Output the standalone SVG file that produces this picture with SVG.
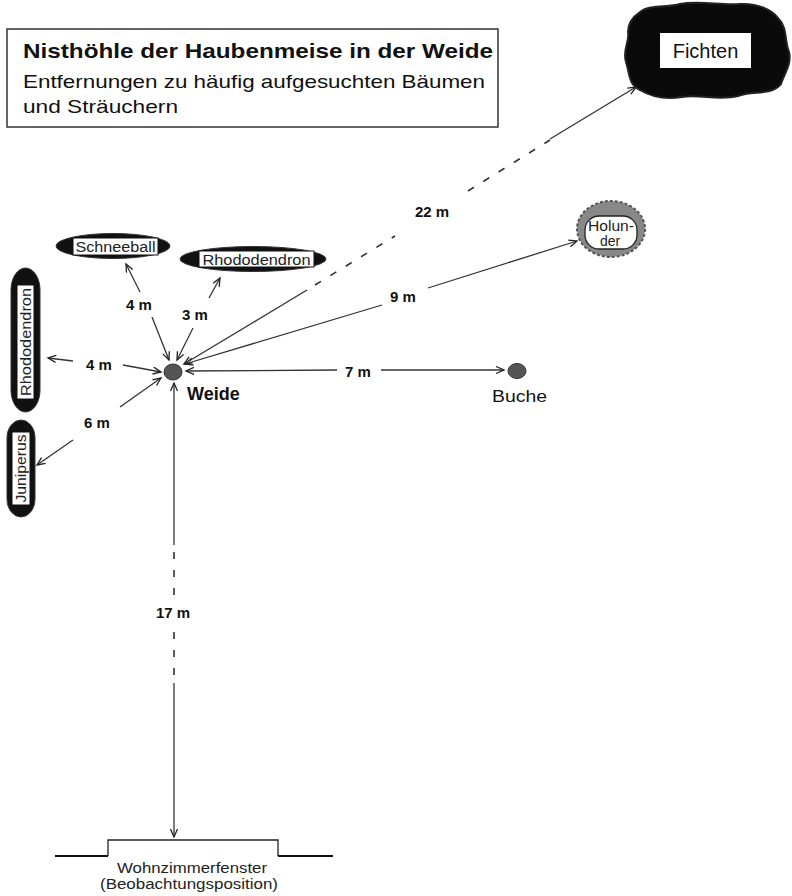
<svg xmlns="http://www.w3.org/2000/svg" width="792" height="896" viewBox="0 0 792 896">
<defs>
<marker id="ah" markerUnits="userSpaceOnUse" markerWidth="12" markerHeight="10" refX="9" refY="4" orient="auto">
<path d="M1,0.5 L9,4 L1,7.5" fill="none" stroke="#222" stroke-width="1.3"/>
</marker>
</defs>
<style>
.t{font-family:"Liberation Sans",Arial,sans-serif;fill:#111}
.lb{font-family:"Liberation Sans",Arial,sans-serif;font-weight:bold;font-size:15px;fill:#111;text-anchor:middle}
.nl{font-family:"Liberation Sans",Arial,sans-serif;font-size:14px;fill:#222;text-anchor:middle}
.a{fill:none;stroke:#333;stroke-width:1.3;marker-end:url(#ah)}
.d{fill:none;stroke:#333;stroke-width:1.6;stroke-dasharray:7 11}
.bush{fill:#111;stroke:#333;stroke-width:1}
.wb{fill:#fff;stroke:#111;stroke-width:1}
</style>
<rect width="792" height="896" fill="#fff"/>

<g id="title">
<rect x="7" y="29" width="491" height="98" fill="#fff" stroke="#333" stroke-width="1.5"/>
<text class="t" x="23" y="58" font-size="20.5" font-weight="bold" textLength="470" lengthAdjust="spacingAndGlyphs">Nisthöhle der Haubenmeise in der Weide</text>
<text class="t" x="23" y="88" font-size="18.5" textLength="462" lengthAdjust="spacingAndGlyphs">Entfernungen zu häufig aufgesuchten Bäumen</text>
<text class="t" x="23" y="113" font-size="18.5" textLength="155" lengthAdjust="spacingAndGlyphs">und Sträuchern</text>
</g>

<g id="fichten">
<path d="M640,12 C650,4 668,8 680,4 C700,0 722,6 740,4 C758,3 772,10 778,18 C788,28 784,40 789,52 C792,64 784,74 781,84 C772,96 752,90 738,96 C718,101 700,94 682,97 C664,100 650,96 640,90 C628,84 630,74 626,62 C622,50 630,42 628,32 C628,22 634,16 640,12 Z" fill="#0a0a0a" stroke="#222" stroke-width="2"/>
<rect x="660" y="33" width="91" height="35" fill="#fff"/>
<text class="t" x="705.5" y="58" font-size="20" text-anchor="middle" fill="#222">Fichten</text>
</g>

<g id="schneeball">
<ellipse class="bush" cx="113" cy="246" rx="57" ry="12.5"/>
<rect class="wb" x="73" y="238" width="85" height="17"/>
<text class="nl" x="115.5" y="251.5" textLength="80" lengthAdjust="spacingAndGlyphs">Schneeball</text>
</g>

<g id="rhododendron-oben">
<ellipse class="bush" cx="253" cy="259" rx="73" ry="12.5"/>
<rect class="wb" x="199" y="251" width="115" height="16"/>
<text class="nl" x="256.5" y="264.5" textLength="108" lengthAdjust="spacingAndGlyphs">Rhododendron</text>
</g>

<g id="rhododendron-links">
<rect class="bush" x="11" y="268" width="29" height="144" rx="14.5" ry="22"/>
<rect class="wb" x="17" y="285" width="17" height="114"/>
<text class="nl" transform="translate(30.5,342) rotate(-90)" textLength="108" lengthAdjust="spacingAndGlyphs">Rhododendron</text>
</g>

<g id="juniperus">
<rect class="bush" x="7" y="420" width="28" height="97" rx="14" ry="18"/>
<rect class="wb" x="12" y="432" width="18" height="73"/>
<text class="nl" transform="translate(26,468.5) rotate(-90)" textLength="68" lengthAdjust="spacingAndGlyphs">Juniperus</text>
</g>

<g id="holunder">
<ellipse cx="611" cy="229" rx="34" ry="28" fill="#888" stroke="#555" stroke-width="2" stroke-dasharray="3 2"/>
<rect x="585" y="216" width="52" height="33" rx="14" ry="14" fill="#fff" stroke="#222" stroke-width="1.3"/>
<text class="nl" x="611" y="231" font-size="16" textLength="46" lengthAdjust="spacingAndGlyphs">Holun-</text>
<text class="nl" x="610" y="246" font-size="16">der</text>
</g>

<g id="weide">
<ellipse cx="173" cy="372" rx="9" ry="8" fill="#555" stroke="#333" stroke-width="1"/>
<text class="t" x="187" y="400" font-size="18" font-weight="bold">Weide</text>
</g>

<g id="buche">
<ellipse cx="517" cy="371" rx="9" ry="7.5" fill="#555" stroke="#333" stroke-width="1"/>
<text class="t" x="519.5" y="402" font-size="17" text-anchor="middle" fill="#333" textLength="55" lengthAdjust="spacingAndGlyphs">Buche</text>
</g>

<g id="fenster">
<path d="M55,856 L108,856" fill="none" stroke="#111" stroke-width="2.2"/>
<path d="M108,856 L108,840 L278,840 L278,856" fill="none" stroke="#222" stroke-width="1.3"/>
<path d="M278,856 L333,856" fill="none" stroke="#111" stroke-width="2.2"/>
<text class="nl" x="192" y="873" fill="#333" font-size="15" textLength="150" lengthAdjust="spacingAndGlyphs">Wohnzimmerfenster</text>
<text class="nl" x="189" y="889" fill="#333" font-size="15" textLength="178" lengthAdjust="spacingAndGlyphs">(Beobachtungsposition)</text>
</g>

<g id="connectors">
<!-- Schneeball 4 m -->
<path class="a" d="M140,292 L126,264"/>
<path class="a" d="M152,317 L169,360"/>
<text class="lb" x="139" y="310">4 m</text>
<!-- Rhododendron oben 3 m -->
<path class="a" d="M209,298 L220,278"/>
<path class="a" d="M193,328 L177,360"/>
<text class="lb" x="195" y="320">3 m</text>
<!-- Rhododendron links 4 m -->
<path class="a" d="M73,361 L48,358"/>
<path class="a" d="M123,365 L161,372"/>
<text class="lb" x="99" y="370">4 m</text>
<!-- Juniperus 6 m -->
<path class="a" d="M73,440 L37,465"/>
<path class="a" d="M120,407 L161,378"/>
<text class="lb" x="97" y="428">6 m</text>
<!-- Buche 7 m -->
<path class="a" d="M337,370 L186,371"/>
<path class="a" d="M381,370 L504,370"/>
<text class="lb" x="358" y="377">7 m</text>
<!-- Holunder 9 m -->
<path class="a" d="M382,305 L185,364"/>
<path class="a" d="M428,288 L577,241"/>
<text class="lb" x="403" y="302">9 m</text>
<!-- Fichten 22 m -->
<path class="a" d="M307,290 L184,364"/>
<path class="d" d="M315,285 L395,236"/>
<path class="d" d="M468,191 L550,140"/>
<path class="a" d="M550,139 L636,87"/>
<text class="lb" x="432" y="217">22 m</text>
<!-- Fenster 17 m -->
<path class="a" d="M174,545 L174,383"/>
<path class="d" d="M174,552 L174,597" stroke-dasharray="8 10"/>
<path class="d" d="M174,632 L174,675" stroke-dasharray="8 10"/>
<path class="a" d="M174,683 L174,837"/>
<text class="lb" x="173" y="618">17 m</text>
</g>
</svg>
